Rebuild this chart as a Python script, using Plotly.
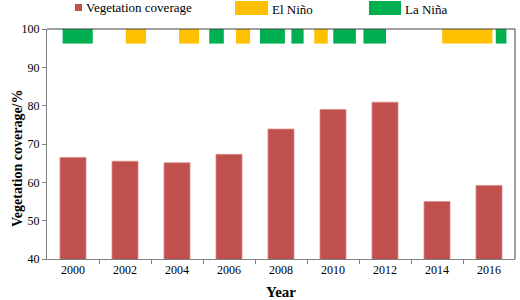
import plotly.graph_objects as go

# ---- data ----
years = [2000, 2002, 2004, 2006, 2008, 2010, 2012, 2014, 2016]
coverage = [66.5, 65.5, 65.1, 67.3, 73.9, 79.0, 80.9, 55.0, 59.2]
tick_labels = [str(y) for y in years]

el_nino_start = [2002.03, 2004.08, 2006.27, 2009.28, 2014.20]
el_nino_end = [2002.81, 2004.85, 2006.81, 2009.80, 2016.13]
la_nina_start = [1999.60, 2005.24, 2007.19, 2008.40, 2010.01, 2011.17, 2016.26]
la_nina_end = [2000.76, 2005.80, 2008.15, 2008.87, 2010.88, 2012.04, 2016.67]
band_bottom = 96.2
band_top = 100

RED = "#C0504D"
ORANGE = "#FFC000"
GREEN = "#00B050"
FONT = "Liberation Serif"

W, H = 520, 300
L, R, T, B = 47, 5, 29, 41
PW, PH = W - L - R, H - T - B


def px(x):
    return (x - L) / PW


def py(y):
    return (H - B - y) / PH


fig = go.Figure()
fig.add_trace(go.Bar(x=years, y=coverage, width=[1.0] * len(years),
                     marker=dict(color=RED, line=dict(color="#D98A88", width=0.8)),
                     name="Vegetation coverage", showlegend=False))


def band(starts, ends, color, name):
    fig.add_trace(go.Bar(
        x=[(s + e) / 2 for s, e in zip(starts, ends)],
        width=[e - s for s, e in zip(starts, ends)],
        y=[band_top - band_bottom] * len(starts),
        base=[band_bottom] * len(starts),
        marker=dict(color=color, line=dict(width=0)),
        name=name, showlegend=False))


band(el_nino_start, el_nino_end, ORANGE, "El Niño")
band(la_nina_start, la_nina_end, GREEN, "La Niña")

shapes = [
    dict(type="line", xref="paper", yref="paper", x0=0, x1=1, y0=1, y1=1,
         line=dict(color="#404040", width=1)),
    dict(type="line", xref="paper", yref="paper", x0=1, x1=1, y0=0, y1=1,
         line=dict(color="#404040", width=1)),
    # legend swatches
    dict(type="rect", xref="paper", yref="paper", x0=px(75), x1=px(82), y0=py(11), y1=py(4),
         fillcolor=RED, line=dict(width=0)),
    dict(type="rect", xref="paper", yref="paper", x0=px(235), x1=px(268), y0=py(15), y1=py(1),
         fillcolor=ORANGE, line=dict(width=0)),
    dict(type="rect", xref="paper", yref="paper", x0=px(369), x1=px(401), y0=py(15), y1=py(1),
         fillcolor=GREEN, line=dict(width=0)),
]

annotations = [
    dict(text="Vegetation coverage", x=px(84), y=py(7.5), xref="paper", yref="paper",
         xanchor="left", yanchor="middle", showarrow=False, font=dict(family=FONT, size=13, color="black")),
    dict(text="El Niño", x=px(270), y=py(9), xref="paper", yref="paper",
         xanchor="left", yanchor="middle", showarrow=False, font=dict(family=FONT, size=13, color="black")),
    dict(text="La Niña", x=px(403), y=py(9), xref="paper", yref="paper",
         xanchor="left", yanchor="middle", showarrow=False, font=dict(family=FONT, size=13, color="black")),
    dict(text="<b>Year</b>", x=0.5, y=py(292), xref="paper", yref="paper",
         xanchor="center", yanchor="middle", showarrow=False, font=dict(family=FONT, size=15, color="black")),
    dict(text="<b>Vegetation coverage/%</b>", x=px(17), y=py(158), xref="paper", yref="paper",
         xanchor="center", yanchor="middle", textangle=-90, showarrow=False,
         font=dict(family=FONT, size=14, color="black")),
]

fig.update_layout(
    width=W, height=H,
    margin=dict(l=L, r=R, t=T, b=B, pad=0),
    paper_bgcolor="white", plot_bgcolor="white",
    barmode="overlay",
    showlegend=False,
    font=dict(family=FONT, size=12, color="black"),
    shapes=shapes, annotations=annotations,
    xaxis=dict(range=[1999, 2017], tickvals=years, ticktext=tick_labels, ticks="",
               showgrid=False, zeroline=False, showline=True, linecolor="#808080", linewidth=1,
               tickfont=dict(family=FONT, size=12, color="black"),
               minor=dict(tickvals=[y + 1 for y in years[:-1]], ticks="outside", ticklen=4,
                          tickcolor="#808080", showgrid=False)),
    yaxis=dict(range=[40, 100], dtick=10, ticks="outside", ticklen=4, tickcolor="#808080",
               showgrid=False, zeroline=False, showline=True, linecolor="#808080", linewidth=1,
               tickfont=dict(family=FONT, size=12, color="black")),
)

fig.write_html("out.html", config={"displayModeBar": False},
               post_script="document.body.style.margin='0';document.body.style.padding='0';")
